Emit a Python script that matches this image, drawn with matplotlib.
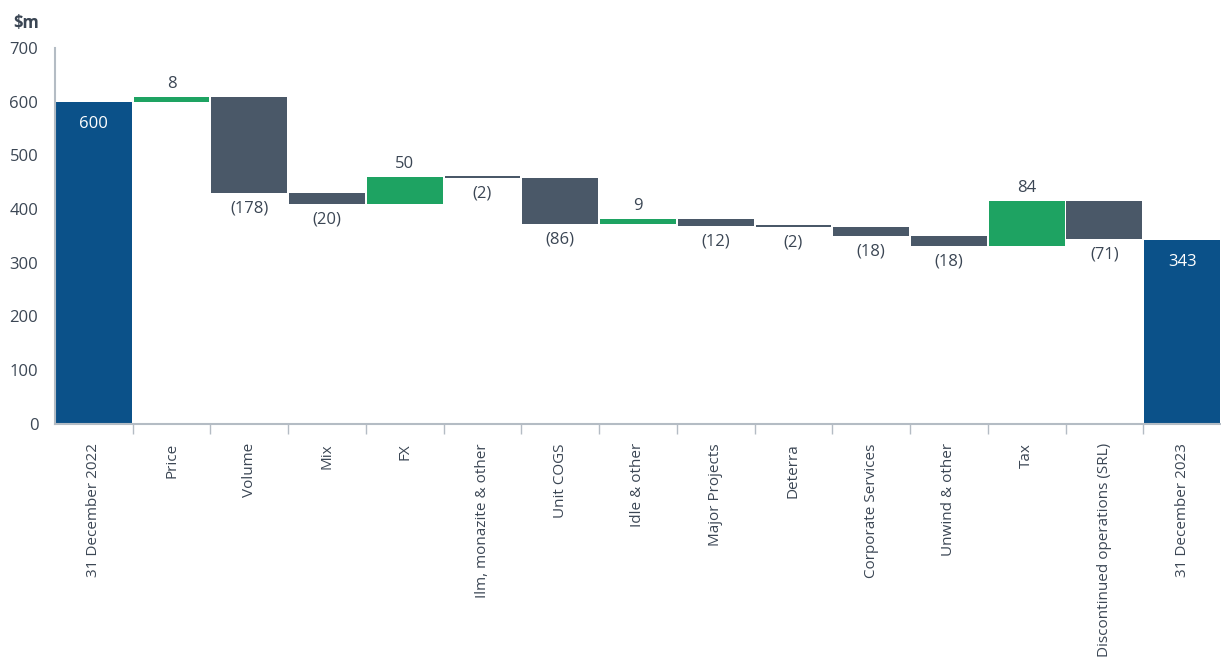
import matplotlib
matplotlib.use("Agg")
import matplotlib.pyplot as plt
import numpy as np

categories = ["31 December 2022", "Price", "Volume", "Mix", "FX", "Ilm, monazite & other",
              "Unit COGS", "Idle & other", "Major Projects", "Deterra", "Corporate Services",
              "Unwind & other", "Tax", "Discontinued operations (SRL)", "31 December 2023"]
values = [600, 8, -178, -20, 50, -2, -86, 9, -12, -2, -18, -18, 84, -71, 343]
kinds = ["total"] + ["delta"] * 13 + ["total"]

BLUE = "#0b5189"
GREY = "#4a5868"
GREEN = "#1ea362"
TXT = "#3b4654"
AX = "#b4bcc4"

plt.rcParams['font.family'] = ['Open Sans', 'DejaVu Sans']

fig = plt.figure(figsize=(12.21, 6.59), dpi=100)
ax = fig.add_axes([0.045, 0.357, 0.955, 0.570])

x = np.arange(len(categories))
run = 0
for i, (v, k) in enumerate(zip(values, kinds)):
    if k == "total":
        ax.bar(i, v, width=0.975, color=BLUE)
        ax.text(i, v - 42, f"{v}", ha="center", va="center", color="white", fontsize=12)
        run = v
    else:
        start = run
        end = run + v
        lo, hi = min(start, end), max(start, end)
        h = max(hi - lo, 3)
        col = GREEN if v > 0 else GREY
        ax.bar(i, h, bottom=lo, width=0.975, color=col)
        if v > 0:
            ax.text(i, lo + h + 10, f"{v}", ha="center", va="bottom", color=TXT, fontsize=12)
        else:
            ax.text(i, lo - 14, f"({abs(v)})", ha="center", va="top", color=TXT, fontsize=12)
        run = end

ax.set_xlim(-0.5, len(categories) - 0.5)
ax.set_ylim(0, 700)
ax.set_yticks(range(0, 701, 100))
ax.tick_params(axis="y", length=0, labelsize=12, labelcolor=TXT, pad=12)
ax.set_xticks(x)
ax.set_xticklabels(categories, rotation=90, fontsize=11, color=TXT)
ax.tick_params(axis="x", which="major", length=0, pad=14)
ax.set_xticks(np.arange(0.5, len(categories) - 1, 1), minor=True)
ax.tick_params(axis="x", which="minor", length=7, color=AX, width=1)

for s in ["top", "right"]:
    ax.spines[s].set_visible(False)
ax.spines["left"].set_color(AX)
ax.spines["left"].set_linewidth(1.5)
ax.spines["bottom"].set_color(AX)
ax.spines["bottom"].set_linewidth(1.5)

fig.text(0.011, 0.965, "$m", fontsize=12, fontweight="bold", color=TXT, ha="left", va="center")

fig.savefig("out.png", dpi=100)
